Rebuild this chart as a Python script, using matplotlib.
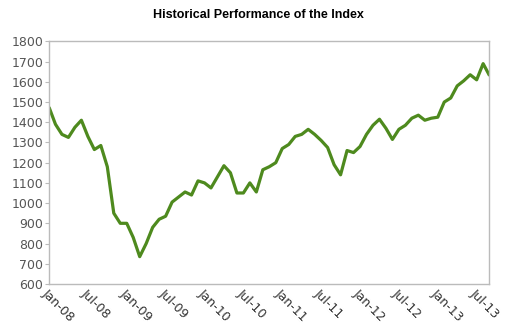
import matplotlib.pyplot as plt

# monthly index level, Jan-08 onwards
months = list(range(69))
index_level = [1475, 1390, 1340, 1325, 1375, 1410, 1330, 1265, 1285, 1180,
               950, 900, 900, 830, 735, 800, 880, 920, 935, 1005,
               1030, 1055, 1040, 1110, 1100, 1075, 1130, 1185, 1150, 1050,
               1050, 1100, 1055, 1165, 1180, 1200, 1270, 1290, 1330, 1340,
               1365, 1340, 1310, 1275, 1190, 1140, 1260, 1250, 1280, 1340,
               1385, 1415, 1370, 1315, 1365, 1385, 1420, 1435, 1410, 1420,
               1425, 1500, 1520, 1580, 1605, 1635, 1610, 1690, 1630]
tick_labels = ["Jan-08", "Jul-08", "Jan-09", "Jul-09", "Jan-10", "Jul-10",
               "Jan-11", "Jul-11", "Jan-12", "Jul-12", "Jan-13", "Jul-13"]
tick_months = [6 * i for i in range(len(tick_labels))]

fig = plt.figure(figsize=(5.14, 3.26), dpi=100)
ax = fig.add_axes([0.0953, 0.129, 0.856, 0.744])

ax.plot(months, index_level, color="#4e8a1e", linewidth=2.3,
        solid_joinstyle="round", solid_capstyle="butt")

ax.set_xlim(0, 67.9)
ax.set_ylim(600, 1800)
ax.set_yticks(range(600, 1801, 100))
ax.set_xticks(tick_months)
ax.set_xticklabels(tick_labels, rotation=-45, ha="left", va="top",
                   rotation_mode="anchor", color="#333333", fontsize=9)
ax.tick_params(axis="y", labelsize=9, labelcolor="#555555", length=3,
               width=0.8, color="#bbbbbb", pad=1)
ax.tick_params(axis="x", length=0, pad=2)

for s in ax.spines.values():
    s.set_color("#bbbbbb")
    s.set_linewidth(1)

fig.text(0.503, 0.955, "Historical Performance of the Index", ha="center",
         va="center", fontsize=9, fontweight="bold", family="Liberation Sans")

fig.savefig("out.png", dpi=100)
